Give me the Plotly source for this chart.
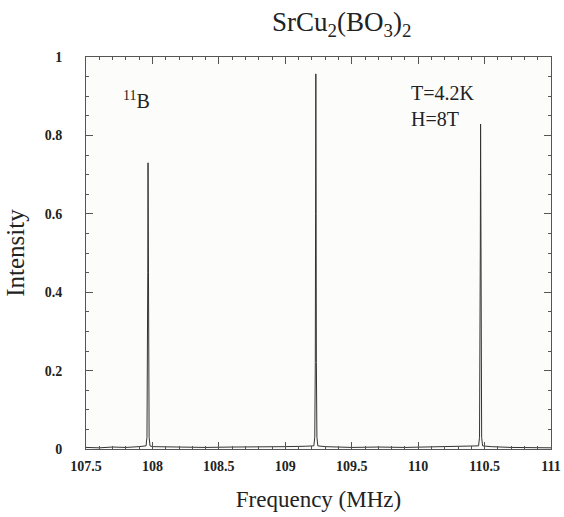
import plotly.graph_objects as go

# Spectrum samples (frequency in MHz, normalized intensity)
freq = [107.50, 107.60, 107.70, 107.80, 107.90,
        107.952, 107.959, 107.963, 107.965, 107.967, 107.969, 107.971, 107.975, 107.982,
        108.00, 108.20, 108.40, 108.60, 108.80, 109.00, 109.15,
        109.215, 109.222, 109.226, 109.228, 109.230, 109.232, 109.234, 109.238, 109.245,
        109.30, 109.50, 109.70, 109.90, 110.10, 110.30, 110.40,
        110.455, 110.462, 110.466, 110.468, 110.470, 110.472, 110.474, 110.478, 110.485,
        110.55, 110.70, 110.90, 111.00]
intensity = [0.004, 0.003, 0.005, 0.004, 0.006,
             0.008, 0.03, 0.18, 0.45, 0.73, 0.45, 0.18, 0.03, 0.008,
             0.006, 0.005, 0.004, 0.005, 0.005, 0.006, 0.007,
             0.008, 0.03, 0.22, 0.60, 0.957, 0.60, 0.22, 0.03, 0.008,
             0.006, 0.004, 0.005, 0.004, 0.005, 0.006, 0.007,
             0.008, 0.03, 0.20, 0.52, 0.829, 0.52, 0.20, 0.03, 0.008,
             0.006, 0.004, 0.004, 0.003]

x_tickvals = [107.5, 108, 108.5, 109, 109.5, 110, 110.5, 111]
x_ticktext = ["107.5", "108", "108.5", "109", "109.5", "110", "110.5", "111"]
y_tickvals = [0, 0.2, 0.4, 0.6, 0.8, 1]
y_ticktext = ["0", "0.2", "0.4", "0.6", "0.8", "1"]

serif = "Liberation Serif"
ink = "#222222"

fig = go.Figure()
fig.add_trace(go.Scatter(x=freq, y=intensity, mode="lines",
                         line=dict(color="#333333", width=1), showlegend=False))

axis_common = dict(
    showgrid=False, zeroline=False, showline=True, linecolor="#555555", linewidth=1,
    mirror="allticks", ticks="inside", ticklen=7, tickwidth=1, tickcolor="#555555",
    tickfont=dict(family=serif, size=14, color=ink, weight="bold"),
    automargin=False,
)

fig.update_xaxes(range=[107.5, 111], tickmode="array", tickvals=x_tickvals, ticktext=x_ticktext,
                 minor=dict(dtick=0.1, ticklen=3, ticks="inside", tickcolor="#555555"),
                 ticklabelstandoff=4,
                 title=dict(text="Frequency (MHz)", font=dict(family=serif, size=23, color=ink), standoff=18),
                 **axis_common)
fig.update_yaxes(range=[0, 1], tickmode="array", tickvals=y_tickvals, ticktext=y_ticktext,
                 minor=dict(dtick=0.05, ticklen=3, ticks="inside", tickcolor="#555555"),
                 ticklabelstandoff=20,
                 title=dict(text="Intensity", font=dict(family=serif, size=25, color=ink), standoff=12),
                 **axis_common)

fig.add_annotation(xref="paper", yref="paper", x=0.55, y=1.0, yshift=33, showarrow=False,
                   text="SrCu<sub>2</sub>(BO<sub>3</sub>)<sub>2</sub>",
                   font=dict(family=serif, size=27, color=ink), xanchor="center", yanchor="middle")
fig.add_annotation(xref="paper", yref="paper", x=0.075, y=0.89, showarrow=False,
                   text="<sup>11</sup>B", font=dict(family=serif, size=20, color=ink),
                   xanchor="left", yanchor="middle")
fig.add_annotation(xref="paper", yref="paper", x=0.695, y=0.875, showarrow=False,
                   text="T=4.2K<br>H=8T", align="left", font=dict(family=serif, size=20, color=ink),
                   xanchor="left", yanchor="middle")

fig.update_layout(width=564, height=517, margin=dict(l=86, r=13, t=57, b=68),
                  font=dict(family=serif, color=ink),
                  paper_bgcolor="#ffffff", plot_bgcolor="#fcfcfb")

fig.write_html("out.html", config={"displayModeBar": False},
               post_script="document.body.style.margin='0';document.body.style.overflow='hidden';")
